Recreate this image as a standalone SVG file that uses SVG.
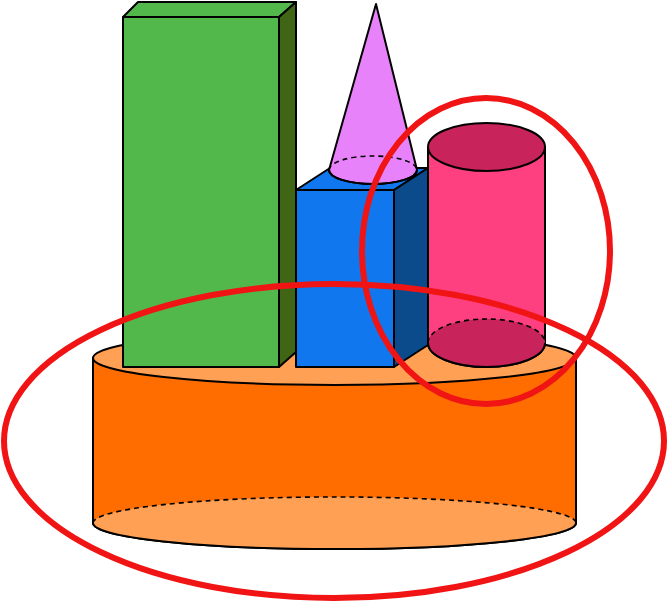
<svg xmlns="http://www.w3.org/2000/svg" width="669" height="606" viewBox="0 0 669 606">
<style>
.s{stroke:#000;stroke-width:2;stroke-linejoin:round}
.d{fill:none;stroke:#000;stroke-width:1.6;stroke-dasharray:5,4}
.r{fill:none;stroke:#F01414;stroke-width:6}
</style>
<rect width="669" height="606" fill="#fff"/>
<g id="base">
<path class="s" d="M93,358 L93,523 A241,26 0 0 0 576,523 L576,358 Z" fill="#FF6D00"/>
<path d="M93,523 A241,26 0 0 0 576,523 A241,26 0 0 0 93,523 Z" fill="#FFA054"/>
<path class="s" fill="none" d="M93,523 A241,26 0 0 0 576,523"/>
<path class="d" d="M93,523 A241,26 0 0 1 576,523"/>
<path class="s" fill="none" d="M93,523 L93,358 M576,358 L576,523"/>
<ellipse class="s" cx="334.5" cy="358" rx="241.5" ry="27" fill="#FFA054"/>
</g>
<g id="green-box">
<path class="s" d="M123,17 L138,2 L296,2 L279,17 Z" fill="#53B84C"/>
<path class="s" d="M279,17 L296,2 L296,352 L279,367 Z" fill="#3F6515"/>
<rect class="s" x="123" y="17" width="156" height="350" fill="#53B84C"/>
</g>
<g id="blue-cube">
<path class="s" d="M296,190 L330,168 L428,168 L394,190 Z" fill="#1177EE"/>
<path class="s" d="M394,190 L428,168 L428,345 L394,367 Z" fill="#0B4B8C"/>
<rect class="s" x="296" y="190" width="98" height="177" fill="#1177EE"/>
</g>
<g id="cone">
<path d="M329,170 A44,14 0 0 0 417,170 A44,14 0 0 0 329,170 Z" fill="#D200F8"/>
<path class="s" d="M329,170 L376,4 L417,170 A44,14 0 0 1 329,170 Z" fill="#E882FA"/>
<path class="d" d="M329,170 A44,14 0 0 1 417,170"/>
<path class="s" fill="none" d="M329,170 A44,14 0 0 0 417,170"/>
</g>
<g id="pink-cylinder">
<path class="s" d="M428,147 L428,343 A58.5,24 0 0 0 545,343 L545,147 Z" fill="#FF4080"/>
<path d="M428,343 A58.5,24 0 0 0 545,343 A58.5,24 0 0 0 428,343 Z" fill="#C8235A"/>
<path class="s" fill="none" d="M428,343 A58.5,24 0 0 0 545,343"/>
<path class="d" d="M428,343 A58.5,24 0 0 1 545,343"/>
<ellipse class="s" cx="486.5" cy="147" rx="58.5" ry="24" fill="#C8235A"/>
</g>
<g id="highlights">
<ellipse class="r" cx="334" cy="441" rx="330" ry="157"/>
<ellipse class="r" cx="486" cy="251" rx="124" ry="153"/>
</g>
</svg>
